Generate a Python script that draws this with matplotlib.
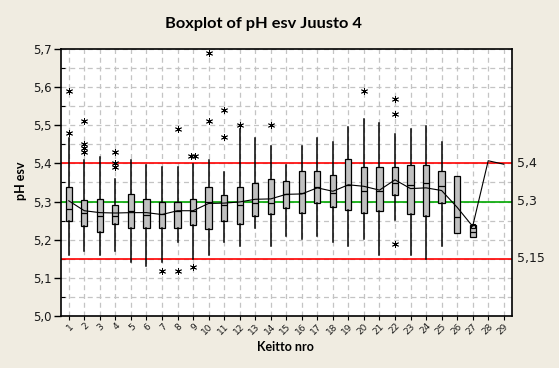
import matplotlib
matplotlib.use('Agg')
import matplotlib.pyplot as plt
import matplotlib.transforms as mtransforms
from matplotlib.ticker import FuncFormatter, MultipleLocator
import numpy as np

# ---------------- data ----------------
categories = list(range(1, 30))
box_categories = list(range(1, 28))
whislo = [5.160, 5.171, 5.160, 5.171, 5.141, 5.130, 5.141, 5.193, 5.150, 5.160,
          5.193, 5.183, 5.230, 5.183, 5.210, 5.202, 5.210, 5.193, 5.183, 5.202,
          5.160, 5.252, 5.160, 5.150, 5.183, 5.217, 5.206]
q1 = [5.250, 5.235, 5.219, 5.240, 5.230, 5.230, 5.230, 5.230, 5.238, 5.227,
      5.249, 5.240, 5.263, 5.267, 5.283, 5.269, 5.295, 5.287, 5.277, 5.269,
      5.276, 5.318, 5.267, 5.261, 5.297, 5.217, 5.206]
medians = [5.280, 5.270, 5.261, 5.261, 5.274, 5.265, 5.268, 5.274, 5.275, 5.300,
           5.291, 5.290, 5.297, 5.296, 5.319, 5.323, 5.339, 5.323, 5.344, 5.328,
           5.329, 5.350, 5.344, 5.350, 5.341, 5.260, 5.221]
q3 = [5.339, 5.303, 5.308, 5.290, 5.319, 5.306, 5.298, 5.298, 5.306, 5.337,
      5.317, 5.339, 5.350, 5.360, 5.355, 5.381, 5.381, 5.370, 5.412, 5.391,
      5.391, 5.391, 5.396, 5.396, 5.381, 5.368, 5.238]
whishi = [5.467, 5.408, 5.418, 5.358, 5.408, 5.397, 5.390, 5.390, 5.399, 5.408,
          5.378, 5.489, 5.467, 5.447, 5.397, 5.447, 5.467, 5.457, 5.496, 5.517,
          5.506, 5.477, 5.489, 5.497, 5.457, 5.368, 5.238]
means = [5.302, 5.276, 5.271, 5.270, 5.271, 5.271, 5.266, 5.276, 5.276, 5.295,
         5.296, 5.299, 5.306, 5.307, 5.319, 5.320, 5.336, 5.327, 5.344, 5.340,
         5.330, 5.357, 5.334, 5.336, 5.329, 5.285, 5.235, 5.407, 5.398]
outliers = {
    1: [5.59, 5.48],
    2: [5.51, 5.45, 5.44, 5.43],
    4: [5.43, 5.40, 5.39],
    7: [5.118],
    8: [5.49, 5.118],
    9: [5.42, 5.42, 5.128],
    10: [5.69, 5.51],
    11: [5.54, 5.47],
    12: [5.50],
    14: [5.50],
    20: [5.59],
    22: [5.57, 5.53, 5.19],
}
ref_lines = [5.4, 5.3, 5.15]
ref_labels = ['5,4', '5,3', '5,15']
ref_colors = ['#FF0000', '#00A800', '#FF0000']

title = 'Boxplot of pH esv Juusto 4'
xlabel = 'Keitto nro'
ylabel = 'pH esv'

# ---------------- figure ----------------
W, H = 559, 368
fig = plt.figure(figsize=(W / 100, H / 100), dpi=100)
fig.patch.set_facecolor('#F0ECE1')
ax = fig.add_axes([61 / W, 1 - 316 / H, (511.5 - 61) / W, (316 - 49) / H])
ax.set_facecolor('white')

# boxes
stats = []
for i, c in enumerate(box_categories):
    stats.append(dict(med=medians[i], q1=q1[i], q3=q3[i],
                      whislo=whislo[i], whishi=whishi[i], fliers=[]))
ax.bxp(stats, positions=box_categories, widths=0.4, patch_artist=True,
       showfliers=False, showcaps=False, manage_ticks=False,
       boxprops=dict(facecolor='#C0C0C0', edgecolor='black', linewidth=0.9),
       medianprops=dict(color='black', linewidth=0.9),
       whiskerprops=dict(color='black', linewidth=1.1),
       zorder=3)

# outliers (tied values drawn side by side)
ox, oy = [], []
for c, vals in outliers.items():
    seen = {}
    for v in vals:
        seen[v] = seen.get(v, 0) + 1
    for v, n in seen.items():
        offs = (np.arange(n) - (n - 1) / 2) * 0.28
        for o in offs:
            ox.append(c + o)
            oy.append(v)
ax.plot(ox, oy, linestyle='none', marker=(6, 2, 0), markersize=5,
        markeredgecolor='black', markeredgewidth=0.6, zorder=4)

# mean connect line
ax.plot(categories, means, color='black', lw=0.8, zorder=4)
ax.plot([27], [means[26]], marker='s', markersize=3, markerfacecolor='none',
        markeredgecolor='black', markeredgewidth=0.8, zorder=5)

ax.set_xlim(0.5, 29.5)
ax.set_ylim(5.0, 5.7)

# ticks + grid
ax.set_xticks(categories)
ax.set_xticklabels([str(c) for c in categories])
ax.yaxis.set_major_locator(MultipleLocator(0.1))
ax.yaxis.set_minor_locator(MultipleLocator(0.05))
ax.yaxis.set_major_formatter(FuncFormatter(lambda v, p: f"{v:.1f}".replace('.', ',')))
gridkw = dict(color='#C4C4C4', linestyle=(0, (4, 3)), linewidth=0.9)
ax.grid(True, axis='x', which='major', **gridkw)
ax.grid(True, axis='y', which='both', **gridkw)
ax.set_axisbelow(True)

# reference lines
for v, c in zip(ref_lines, ref_colors):
    ax.axhline(v, color=c, lw=1.2, zorder=1.5)
trans = mtransforms.blended_transform_factory(ax.transAxes, ax.transData)
for v, lab in zip(ref_lines, ref_labels):
    ax.text(1.012, v, lab, transform=trans, ha='left', va='center',
            fontsize=9, color='#1a1a1a', family='DejaVu Sans')

# spines / ticks
for s in ax.spines.values():
    s.set_color('black')
    s.set_linewidth(1.2)
ax.tick_params(axis='y', which='major', direction='out', length=5, width=1,
               labelsize=8.5, labelcolor='#1a1a1a', pad=2)
ax.tick_params(axis='y', which='minor', direction='in', length=3, width=0.8)
ax.tick_params(axis='x', which='major', direction='out', length=3, width=0.8,
               labelsize=6.5, labelcolor='#1a1a1a', pad=1)
for lab in ax.get_xticklabels():
    lab.set_rotation(45)
    lab.set_ha('right')
    lab.set_rotation_mode('anchor')

fig.text(263 / W, 1 - 24 / H, title, ha='center', va='center',
         fontsize=11.8, fontweight='bold', family='Lato', color='black')
fig.text(285 / W, 1 - 347 / H, xlabel, ha='center', va='center',
         fontsize=9, fontweight='bold', family='Lato', color='black')
fig.text(21 / W, 1 - 181 / H, ylabel, ha='center', va='center', rotation=90,
         fontsize=9, fontweight='bold', family='Lato', color='black')

fig.savefig('out.png', dpi=100, facecolor=fig.get_facecolor())
